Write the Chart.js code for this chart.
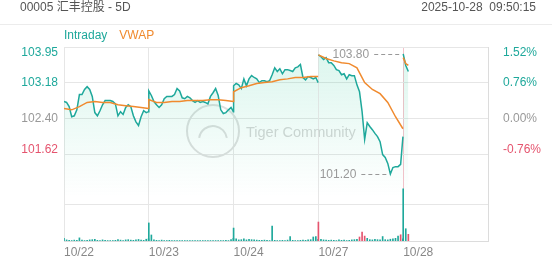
<!DOCTYPE html>
<html>
<head>
<meta charset="utf-8">
<script src="https://cdn.jsdelivr.net/npm/chart.js@4.4.1/dist/chart.umd.min.js"></script>
<style>
  body { margin: 0; background: #fff; font-family: 'Liberation Sans', Arial, 'Noto Sans CJK SC', sans-serif; }
  #wrap { position: relative; width: 552px; height: 265px; overflow: hidden; }
  #chart { position: absolute; left: 0; top: 0; }
  .hdr { position: absolute; top: 0; font-size: 12px; line-height: 14px; color: #555; white-space: pre; }
  #title { left: 20px; }
  #time { right: 16px; }
  #rule { position: absolute; left: 0; right: 0; top: 24px; height: 1px; background: #ececec; }
  #legend { position: absolute; left: 64px; top: 28px; font-size: 12px; line-height: 14px; }
  #legend span { margin-right: 12px; }
</style>
</head>
<body>
<div id="wrap">
  <canvas id="chart" width="552" height="265"></canvas>
  <div class="hdr" id="title">00005 汇丰控股 - 5D</div>
  <div class="hdr" id="time">2025-10-28  09:50:15</div>
  <div id="rule"></div>
  <div id="legend"><span style="color:#1ea89b">Intraday</span><span style="color:#f08a2e">VWAP</span></div>
</div>
<script>
const dayLabels = ['10/22', '10/23', '10/24', '10/27', '10/28'];
const prevClose = 102.40;
const priceTicks = [101.62, 102.40, 103.18, 103.95];
const priceTickLabels = ['101.62', '102.40', '103.18', '103.95'];
const pctTickLabels = ['-0.76%', '0.00%', '0.76%', '1.52%'];
const volTick = 161.93;
const volUnit = 'Kshares';

// price every 10 minutes, 09:30 -> 16:00 (34 points per full day)
const price1022 = [102.77, 102.75, 102.66, 102.44, 102.46, 102.59, 102.92, 102.92, 103.03, 103.09,
  103.03, 102.88, 102.53, 102.46, 102.57, 102.70, 102.79, 102.79, 102.79, 102.77,
  102.72, 102.46, 102.55, 102.49, 102.64, 102.70, 102.66, 102.46, 102.33, 102.25,
  102.44, 102.57, 102.53, 102.55];
const price1023 = [103.00, 102.90, 102.77, 102.70, 102.64, 102.70, 102.83, 102.88, 102.88, 102.88,
  102.92, 103.05, 103.00, 102.85, 102.83, 102.88, 102.85, 102.79, 102.75, 102.79,
  102.75, 102.77, 102.75, 102.72, 102.88, 102.96, 103.05, 102.90, 102.59, 102.51,
  102.53, 102.59, 102.64, 102.55];
const price1024 = [103.11, 103.16, 103.13, 103.05, 103.26, 103.11, 103.26, 103.33, 103.29, 103.26,
  103.18, 103.22, 103.22, 103.20, 103.22, 103.35, 103.50, 103.42, 103.48, 103.37,
  103.46, 103.46, 103.44, 103.42, 103.50, 103.52, 103.57, 103.29, 103.24, 103.31,
  103.29, 103.26, 103.29, 103.18];
const price1027 = [103.78, 103.74, 103.68, 103.72, 103.61, 103.61, 103.55, 103.46, 103.44, 103.35,
  103.37, 103.26, 103.35, 103.33, 103.33, 103.13, 102.98, 102.55, 101.95, 102.31,
  102.23, 102.16, 102.08, 102.01, 101.90, 101.62, 101.56, 101.43, 101.20, 101.34,
  101.36, 101.36, 101.41, 102.01];
const price1028 = [103.80, 103.55, 103.42];

// vwap every 30 minutes (last day every 10 minutes)
const vwap1022 = [102.62, 102.59, 102.66, 102.75, 102.77, 102.75, 102.75, 102.70, 102.68, 102.66, 102.64, 102.62];
const vwap1023 = [102.81, 102.75, 102.75, 102.77, 102.77, 102.79, 102.79, 102.79, 102.81, 102.81, 102.79, 102.77];
const vwap1024 = [102.98, 103.07, 103.11, 103.16, 103.18, 103.20, 103.24, 103.26, 103.29, 103.29, 103.31, 103.31];
const vwap1027 = [103.78, 103.70, 103.65, 103.61, 103.59, 103.50, 103.18, 103.03, 102.94, 102.75, 102.44, 102.18];
const vwap1028 = [103.72, 103.59, 103.55];

// volume in Kshares per 10 minutes
const vol1022 = [12, 5, 3, 2, 4, 3, 14, 4, 2, 3, 5, 6, 8, 3, 2, 5, 3, 2, 2, 2, 3, 6, 4, 2, 5, 6, 4, 3, 5, 7, 4, 3, 8, 10];
const vol1023 = [81, 27, 5, 3, 2, 4, 2, 2, 3, 2, 2, 2, 2, 2, 2, 2, 2, 2, 2, 2, 2, 2, 2, 2, 2, 2, 2, 2, 2, 2, 3, 2, 6, 12];
const vol1024 = [58, 10, 5, 6, 10, 5, 8, 6, 5, 4, 3, 3, 4, 3, 2, 67, 3, 2, 2, 3, 2, 4, 20, 3, 2, 2, 3, 4, 3, 5, 6, 18, 20, 8];
const vol1027 = [85, 8, 5, 4, 3, 4, 3, 2, 5, 3, 4, 2, 3, 5, 6, 8, 18, 40, 22, 12, 6, 5, 8, 6, 5, 20, 6, 5, 8, 10, 12, 22, 28, 10];
const vol1028 = [234, 55, 30];
// indexes of down (red) volume bars
const volDown = [[], [], [], [0, 16, 17, 18, 32], [2]];

const joinPrevDay = [false, true, true, false, false];
const minutesPerDay = 330;

const TEAL = '#1ea89b';
const RED = '#e5546e';
const GREY = '#999';
const GRID = '#e6e6e6';

function buildSeries(days, stepFull, stepLast) {
  const out = [];
  days.forEach((vals, d) => {
    const step = d === days.length - 1 ? stepLast : stepFull;
    if (d > 0 && !joinPrevDay[d]) out.push({ x: d * minutesPerDay - 0.5, y: null });
    vals.forEach((v, i) => {
      // the close of a day sits just before the next day's open
      const x = Math.min(d * minutesPerDay + i * step, (d + 1) * minutesPerDay - 1);
      out.push({ x: x, y: v });
    });
  });
  return out;
}

const priceData = buildSeries([price1022, price1023, price1024, price1027, price1028], 10, 10);
const vwapData = buildSeries([vwap1022, vwap1023, vwap1024, vwap1027, vwap1028], 30, 10);

const volData = [];
const volColors = [];
[vol1022, vol1023, vol1024, vol1027, vol1028].forEach((vals, d) => {
  vals.forEach((v, i) => {
    volData.push({ x: Math.min(d * minutesPerDay + i * 10, (d + 1) * minutesPerDay - 1), y: v });
    volColors.push(volDown[d].includes(i) ? RED : TEAL);
  });
});

const priceMin = 99.75;
const priceMax = 103.95;
const pct = p => (p / prevClose - 1) * 100;

function priceColor(v) {
  if (Math.abs(v - prevClose) < 0.001) return GREY;
  return v > prevClose ? TEAL : RED;
}

// faint watermark behind the lines
const watermark = {
  id: 'watermark',
  beforeDatasetsDraw(chart) {
    const ctx = chart.ctx;
    ctx.save();
    ctx.strokeStyle = '#dedede';
    ctx.lineWidth = 2;
    ctx.beginPath();
    ctx.arc(213, 131, 26, 0, Math.PI * 2);
    ctx.stroke();
    ctx.beginPath();
    ctx.arc(213, 140, 14, Math.PI * 1.05, Math.PI * 1.95);
    ctx.stroke();
    ctx.fillStyle = '#d6d6d6';
    ctx.font = '14.5px "Liberation Sans", Arial, sans-serif';
    ctx.textBaseline = 'middle';
    ctx.fillText('Tiger Community', 246, 133);
    ctx.restore();
  }
};

// high / low labels with dashed leaders
const hiLo = {
  id: 'hiLo',
  afterDatasetsDraw(chart) {
    const pts = priceData.filter(p => p.y !== null);
    let hi = pts[0], lo = pts[0];
    pts.forEach(p => {
      if (p.y >= hi.y) hi = p;
      if (p.y < lo.y) lo = p;
    });
    const xs = chart.scales.x, ys = chart.scales.y;
    const ctx = chart.ctx;
    ctx.save();
    ctx.font = '12px "Liberation Sans", Arial, sans-serif';
    ctx.fillStyle = GREY;
    ctx.strokeStyle = GREY;
    ctx.lineWidth = 1;
    ctx.textAlign = 'right';
    ctx.textBaseline = 'middle';
    [hi, lo].forEach(p => {
      const px = xs.getPixelForValue(p.x);
      const py = Math.round(ys.getPixelForValue(p.y)) + 0.5;
      ctx.setLineDash([4, 3]);
      ctx.beginPath();
      ctx.moveTo(px - 29, py);
      ctx.lineTo(px - 1, py);
      ctx.stroke();
      ctx.setLineDash([]);
      ctx.fillText(p.y.toFixed(2), px - 34, py);
    });
    ctx.restore();
  }
};

Chart.defaults.font.family = '"Liberation Sans", Arial, sans-serif';
Chart.defaults.font.size = 12;

new Chart(document.getElementById('chart'), {
  type: 'line',
  data: {
    datasets: [
      {
        label: 'VWAP',
        data: vwapData,
        yAxisID: 'y',
        borderColor: '#f08a2e',
        borderWidth: 1.5,
        pointRadius: 0,
        tension: 0,
        spanGaps: false,
        fill: false,
        order: 0
      },
      {
        label: 'Intraday',
        data: priceData,
        yAxisID: 'y',
        borderColor: TEAL,
        borderWidth: 1.5,
        pointRadius: 0,
        tension: 0,
        spanGaps: false,
        fill: 'start',
        backgroundColor(c) {
          const ca = c.chart.chartArea;
          if (!ca) return 'rgba(0,0,0,0)';
          const g = c.chart.ctx.createLinearGradient(0, ca.top, 0, ca.top + 150);
          g.addColorStop(0, 'rgba(40,200,150,0.17)');
          g.addColorStop(1, 'rgba(40,200,150,0)');
          return g;
        },
        order: 1
      },
      {
        type: 'bar',
        label: 'Volume',
        data: volData,
        yAxisID: 'yv',
        backgroundColor: volColors,
        borderWidth: 0,
        barThickness: 1,
        order: 2
      }
    ]
  },
  options: {
    responsive: false,
    animation: false,
    events: [],
    layout: { padding: { top: 47, left: 0, right: 0, bottom: 0 } },
    plugins: { legend: { display: false }, tooltip: { enabled: false } },
    scales: {
      x: {
        type: 'linear',
        min: 0,
        max: minutesPerDay * 5,
        offset: false,
        afterBuildTicks: s => { s.ticks = dayLabels.map((d, i) => ({ value: i * minutesPerDay })); },
        afterFit: s => { s.height = 24; },
        ticks: {
          autoSkip: false,
          maxRotation: 0,
          align: 'start',
          padding: 4,
          color: '#888',
          callback: (v, i) => dayLabels[i]
        },
        grid: {
          offset: false,
          drawTicks: false,
          color: c => (c.index === dayLabels.length - 1 ? '#f3c2ca' : GRID)
        },
        border: { color: '#dcdcdc' }
      },
      y: {
        position: 'left',
        weight: 1,
        min: priceMin,
        max: priceMax,
        afterBuildTicks: s => { s.ticks = priceTicks.map(v => ({ value: v })); },
        afterFit: s => { s.width = 64; },
        ticks: {
          padding: 6,
          font: { size: 12, lineHeight: 0.9 },
          color: c => priceColor(c.tick.value),
          callback: (v, i) => {
            const lab = priceTickLabels[i];
            if (i === priceTicks.length - 1) return ['', lab];
            if (i === 0) return [lab, ''];
            return lab;
          }
        },
        grid: { drawTicks: false, color: GRID },
        border: { display: false }
      },
      yv: {
        position: 'left',
        weight: 0,
        min: 0,
        max: 870,
        afterBuildTicks: s => { s.ticks = [{ value: 22 }, { value: volTick }]; },
        afterFit: s => { s.width = 0; },
        ticks: {
          padding: 6,
          color: GREY,
          callback: (v, i) => (i === 0 ? volUnit : volTick.toFixed(2))
        },
        grid: {
          drawTicks: false,
          color: c => (c.index === 1 ? GRID : 'rgba(0,0,0,0)')
        },
        border: { display: false }
      },
      y2: {
        position: 'right',
        min: pct(priceMin),
        max: pct(priceMax),
        afterBuildTicks: s => { s.ticks = priceTicks.map(p => ({ value: pct(p) })); },
        afterFit: s => { s.width = 64; },
        ticks: {
          padding: 7,
          font: { size: 12, lineHeight: 0.9 },
          color: c => {
            const v = c.tick.value;
            if (Math.abs(v) < 0.001) return GREY;
            return v > 0 ? TEAL : RED;
          },
          callback: (v, i) => {
            const lab = pctTickLabels[i];
            if (i === priceTicks.length - 1) return ['', lab];
            if (i === 0) return [lab, ''];
            return lab;
          }
        },
        grid: { display: false },
        border: { display: true, color: '#dcdcdc' }
      }
    }
  },
  plugins: [watermark, hiLo]
});
</script>
</body>
</html>
